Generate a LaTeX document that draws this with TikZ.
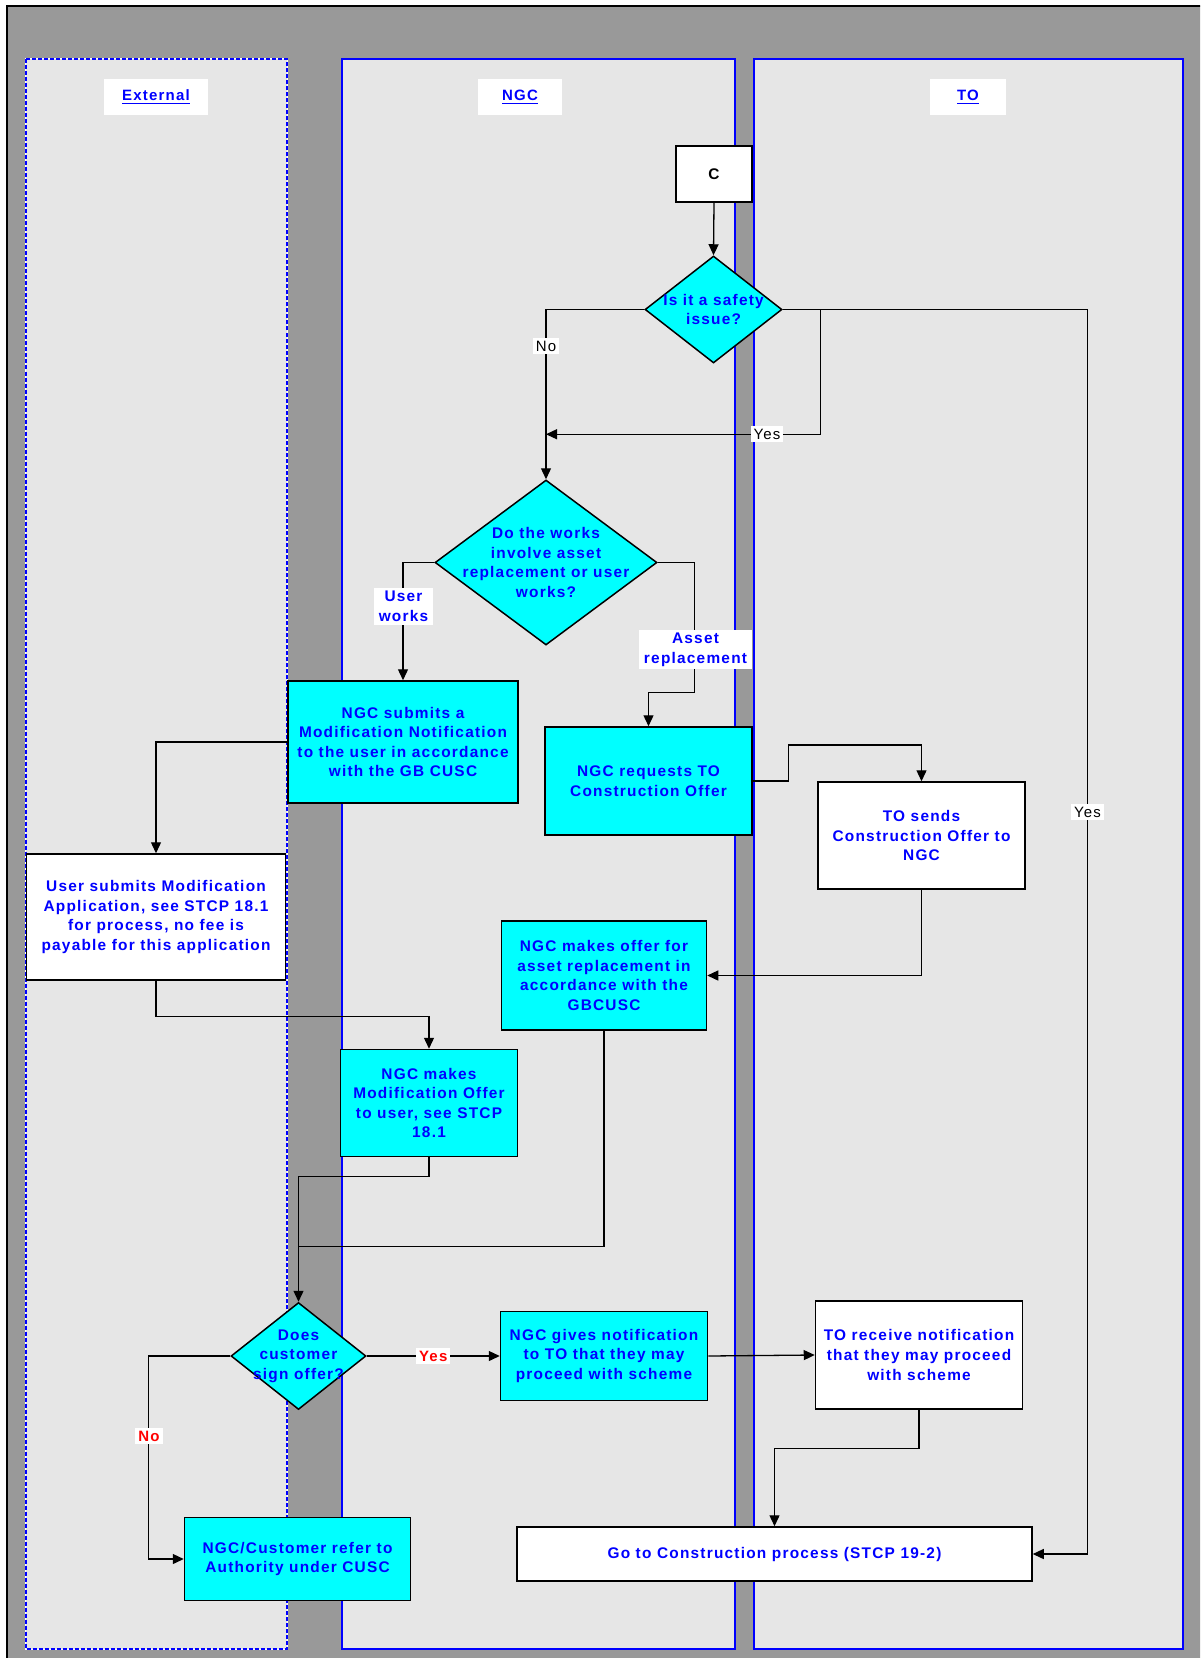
\documentclass[tikz,border=0pt]{standalone}
\usepackage{fontspec}
\setmainfont{Liberation Sans}
\newfontfamily\flowfont[LetterSpace=8]{Liberation Sans}
\usetikzlibrary{arrows.meta, shapes.geometric, positioning, calc}
\definecolor{bggray}{RGB}{153,153,153}
\definecolor{lanegray}{RGB}{230,230,230}
\definecolor{boxcyan}{RGB}{0,255,255}

\begin{document}
\begin{tikzpicture}[x=0.5pt, y=-0.5pt,
  lane/.style={draw=blue, line width=1pt, fill=lanegray},
  head/.style={fill=white, text=blue, minimum height=18pt, inner sep=0pt, font=\flowfont\bfseries\fontsize{7.5}{9}\selectfont},
  proc/.style={draw, line width=0.75pt, fill=boxcyan, text=blue, align=center, inner sep=1pt, font=\flowfont\bfseries\fontsize{7.7}{9.8}\selectfont},
  procw/.style={proc, fill=white},
  dec/.style={diamond, draw, line width=0.75pt, fill=boxcyan, inner sep=0pt},
  dtext/.style={text=blue, align=center, inner sep=0pt, font=\flowfont\bfseries\fontsize{7.7}{9.8}\selectfont},
  flow/.style={line width=0.65pt, -{Triangle[length=5.5pt, width=5pt]}},
  link/.style={line width=0.65pt},
  lbl/.style={fill=white, inner sep=1.5pt, font=\flowfont\fontsize{7.5}{9}\selectfont},
  lblred/.style={lbl, text=red, font=\flowfont\bfseries\fontsize{7.5}{9}\selectfont},
  lblblue/.style={lbl, text=blue, align=center, inner xsep=2.5pt, font=\flowfont\bfseries\fontsize{7.7}{9.8}\selectfont}]

% Background and frame
\useasboundingbox (0,0) rectangle (1200,1658);
\clip (0,0) rectangle (1200,1658);
\fill[bggray] (7,6) rectangle (1210,1670);
\draw[line width=1pt] (7,1670) -- (7,6) -- (1210,6);

% Swim lanes
\draw[lane, draw=white] (25.5,59.5) rectangle (286.5,1648.5);
\draw[lane, dash pattern=on 2pt off 1pt] (25.5,59.5) rectangle (286.5,1648.5);
\draw[lane] (342,59.5) rectangle (734.5,1648.5);
\draw[lane] (753.5,59.5) rectangle (1183,1648.5);
\foreach \x/\w/\name in {156/52/External, 520/42/NGC, 968/38/TO}
  \node[head, minimum width=\w pt] (head-\name) at (\x,97) {\underline{\name}};

% Safety question
\node[procw, minimum width=38pt, minimum height=28pt, text=black] (start) at (714,174) {C};
\node[dec, minimum width=68.5pt, minimum height=53.5pt] (safety) at (713.5,309.5) {};
\node[dtext] (safety-t) at (safety) {Is it a safety\\issue?};

% Works question
\node[dec, minimum width=111pt, minimum height=82.5pt] (works) at (546,562.5) {};
\node[dtext] (works-t) at (works) {Do the works\\involve asset\\replacement or user\\works?};

% Offers
\node[proc, minimum width=115pt, minimum height=61pt] (nsub) at (403,742) {NGC submits a\\Modification Notification\\to the user in accordance\\with the GB CUSC};
\node[proc, minimum width=103.5pt, minimum height=54pt] (nreq) at (648.5,781) {NGC requests TO\\Construction Offer};
\node[procw, minimum width=103.5pt, minimum height=53.5pt] (tosend) at (921.5,835.5) {TO sends\\Construction Offer to\\NGC};
\node[procw, minimum width=129.5pt, minimum height=63pt] (usub) at (156,917) {User submits Modification\\Application, see STCP 18.1\\for process, no fee is\\payable for this application};
\node[proc, minimum width=102.5pt, minimum height=54.5pt] (noffer) at (604,975.5) {NGC makes offer for\\asset replacement in\\accordance with the\\GBCUSC};
\node[proc, minimum width=88.5pt, minimum height=53.5pt] (nmod) at (429,1103) {NGC makes\\Modification Offer\\to user, see STCP\\18.1};

% Customer decision
\node[dec, minimum width=67.5pt, minimum height=53.5pt] (dcust) at (298.5,1356) {};
\node[dtext] (dcust-t) at (dcust) {Does\\customer\\sign offer?};
\node[proc, minimum width=103.5pt, minimum height=44.5pt] (nnote) at (604,1356) {NGC gives notification\\to TO that they may\\proceed with scheme};
\node[procw, minimum width=103.5pt, minimum height=54pt] (torec) at (919,1355) {TO receive notification\\that they may proceed\\with scheme};
\node[procw, minimum width=257.5pt, minimum height=27pt] (goto) at (774.5,1554) {Go to Construction process (STCP 19-2)};
\node[proc, minimum width=113pt, minimum height=41.5pt] (ncref) at (297.5,1559) {NGC/Customer refer to\\Authority under CUSC};

% Connectors
\draw[flow] (start.south) -- (safety.north);
\draw[flow] (safety.west) -| (works.north);
\draw[flow] (safety.east) -| ($(goto.east)+(55,0)$) -- (goto.east);
\coordinate (yes-split) at ($(safety.east)+(38,0)$);
\coordinate (no-join) at ($(works.north)+(0,-45)$);
\draw[flow] (yes-split) |- (no-join);
\node[lbl] (no-1) at (546,346) {No};
\node[lbl] (yes-1) at (767,434) {Yes};
\node[lbl] (yes-2) at (1087.5,812) {Yes};

\draw[flow] (works.west) -| (nsub.north);
\draw[flow] (works.east) -- ++(37,0) -- ++(0,130) -| (nreq.north);
\node[lblblue] (user-lbl) at (403.5,606.5) {User\\works};
\node[lblblue] (asset-lbl) at (695.5,649.5) {Asset\\replacement};

\draw[flow] (nreq.east) -- ++(36,0) -- ++(0,-36) -| (tosend.north);
\draw[flow] (tosend.south) |- (noffer.east);
\draw[flow] (nsub.west) -| (usub.north);
\draw[flow] (usub.south) -- ++(0,36) -| (nmod.north);
\draw[flow] (nmod.south) -- ++(0,19) -| (dcust.north);
\coordinate (offer-join) at ($(dcust.north)+(0,-55)$);
\draw[link] (noffer.south) |- (offer-join);

\draw[flow] (dcust.east) -- (nnote.west) node[lblred, midway] (yes-3) {Yes};
\draw[flow] (nnote.east) -- (torec.west);
\draw[flow] (torec.south) -- ++(0,38.5) -| (goto.north);
\draw[flow] (dcust.west) -- ++(-82,0) |- (ncref.west);
\node[lblred] (no-2) at (149,1436) {No};
\end{tikzpicture}
\end{document}
